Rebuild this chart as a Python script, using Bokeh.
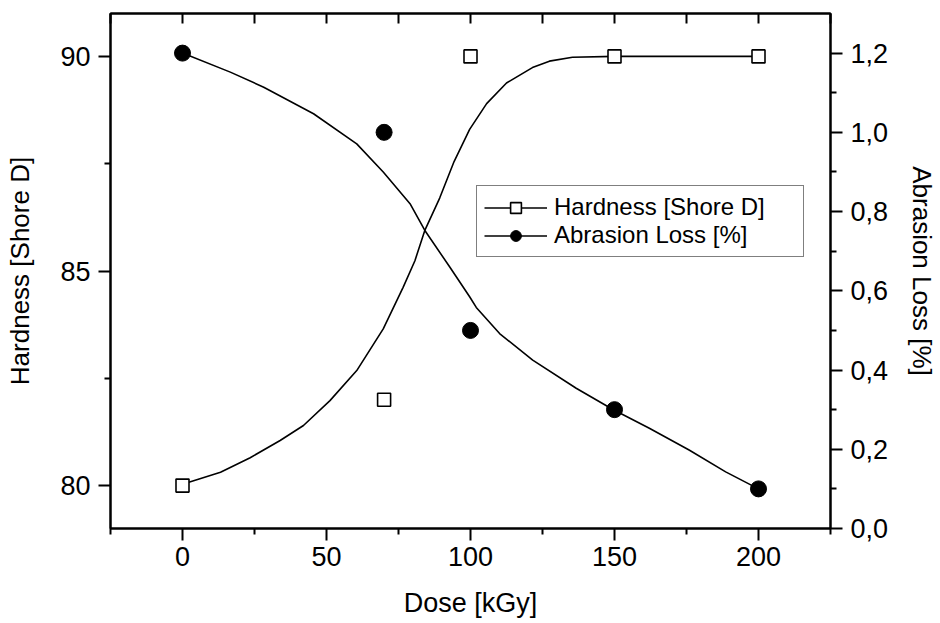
from bokeh.plotting import figure
from bokeh.models import (Range1d, LinearAxis, FixedTicker, CustomJSTickFormatter,
                          Legend, LegendItem)
from bokeh.embed import file_html
from bokeh.resources import INLINE

# ---- data ----
dose = [0, 70, 100, 150, 200]
hardness = [80, 82, 90, 90, 90]
abrasion = [1.2, 1.0, 0.5, 0.3, 0.1]

# fitted curves
hard_fit_x = [0, 2.2, 13.2, 23.5, 33.9, 42, 51.2, 60.5, 69.7, 76.6, 80.7, 84.1,
              89.3, 94.3, 99.7, 105.6, 112.5, 121.5, 127.4, 135.4, 150, 175, 200]
hard_fit_y = [80, 80.08, 80.31, 80.65, 81.05, 81.40, 81.98, 82.68, 83.65, 84.62,
              85.24, 85.94, 86.70, 87.55, 88.30, 88.90, 89.38, 89.74, 89.89, 89.98,
              90, 90, 90]
abr_fit_x = [0, 16.6, 28.2, 45.5, 60.5, 69.7, 79, 84.1, 92.8, 99.7, 102, 110.1,
             121.6, 136.7, 149.3, 162.1, 175.9, 188.6, 200]
abr_fit_y = [1.2, 1.152, 1.114, 1.047, 0.971, 0.900, 0.820, 0.753, 0.660, 0.585,
             0.558, 0.492, 0.425, 0.354, 0.301, 0.253, 0.198, 0.143, 0.1]

x_major = [0, 50, 100, 150, 200]
x_minor = [-25, 25, 75, 125, 175, 225]
h_major = [80, 85, 90]
h_minor = [82.5, 87.5]
a_major = [0.0, 0.2, 0.4, 0.6, 0.8, 1.0, 1.2]
a_minor = [0.1, 0.3, 0.5, 0.7, 0.9, 1.1]

FONT = "Liberation Sans"
FS_TICK = "27px"
FS_LABEL = "26px"

p = figure(width=940, height=623, x_range=Range1d(-25, 225), y_range=Range1d(79, 91),
           output_backend="svg", toolbar_location=None,
           min_border_left=110, min_border_right=108, min_border_top=13,
           min_border_bottom=95)
p.extra_y_ranges = {"abr": Range1d(0, 1.3)}
p.grid.visible = False
p.outline_line_color = "black"
p.outline_line_width = 2
p.background_fill_color = "white"
p.border_fill_color = "white"


def style(ax, major, minor):
    ax.ticker = FixedTicker(ticks=major, minor_ticks=minor)
    ax.axis_line_color = "black"
    ax.axis_line_width = 2
    ax.major_tick_line_width = 2
    ax.minor_tick_line_width = 2
    ax.major_tick_in = 0
    ax.major_tick_out = 12
    ax.minor_tick_in = 0
    ax.minor_tick_out = 6
    ax.major_label_text_font = FONT
    ax.major_label_text_font_size = FS_TICK
    ax.major_label_text_color = "black"
    ax.axis_label_text_font = FONT
    ax.axis_label_text_font_size = FS_LABEL
    ax.axis_label_text_font_style = "normal"
    ax.axis_label_text_color = "black"


xa = p.xaxis[0]
style(xa, x_major, x_minor)
xa.axis_label = "Dose [kGy]"
xa.axis_label_text_font_size = "27px"
xa.major_label_standoff = 6
xa.axis_label_standoff = 19

ya = p.yaxis[0]
style(ya, h_major, h_minor)
ya.axis_label = "Hardness [Shore D]"
ya.major_label_standoff = 8
ya.axis_label_standoff = 22

ra = LinearAxis(y_range_name="abr")
style(ra, a_major, a_minor)
ra.axis_label = "Abrasion Loss [%]"
ra.major_label_standoff = 8
ra.axis_label_standoff = 16
ra.formatter = CustomJSTickFormatter(code="return tick.toFixed(1).replace('.', ',');")
p.add_layout(ra, "right")

ta = LinearAxis()
style(ta, x_major, x_minor)
ta.major_tick_in = 10
ta.major_tick_out = 0
ta.minor_tick_in = 10
ta.minor_tick_out = 0
ta.major_label_standoff = 0
ta.major_label_text_font_size = "0px"
ta.formatter = CustomJSTickFormatter(code="return '';")
p.add_layout(ta, "above")

h_line = p.line(hard_fit_x, hard_fit_y, line_color="black", line_width=1.6)
a_line = p.line(abr_fit_x, abr_fit_y, line_color="black", line_width=1.6,
                y_range_name="abr")
h_pts = p.scatter(dose, hardness, marker="square", size=13, fill_color="white",
                  line_color="black", line_width=1.6)
a_pts = p.scatter(dose, abrasion, marker="circle", size=16, fill_color="black",
                  line_color="black", y_range_name="abr")

legend = Legend(items=[
    LegendItem(label="Hardness [Shore D]", renderers=[h_line, h_pts]),
    LegendItem(label="Abrasion Loss [%]", renderers=[a_line, a_pts]),
], location=(366, 271))
legend.label_text_font = FONT
legend.label_text_font_size = "24px"
legend.label_text_color = "black"
legend.glyph_width = 63
legend.glyph_height = 27
legend.label_height = 27
legend.label_width = 242
legend.label_standoff = 7
legend.padding = 7
legend.spacing = 0
legend.margin = 0
legend.border_line_color = "black"
legend.border_line_width = 1.5
legend.background_fill_alpha = 1
p.add_layout(legend, "center")

open("out.html", "w").write(file_html(p, INLINE))
